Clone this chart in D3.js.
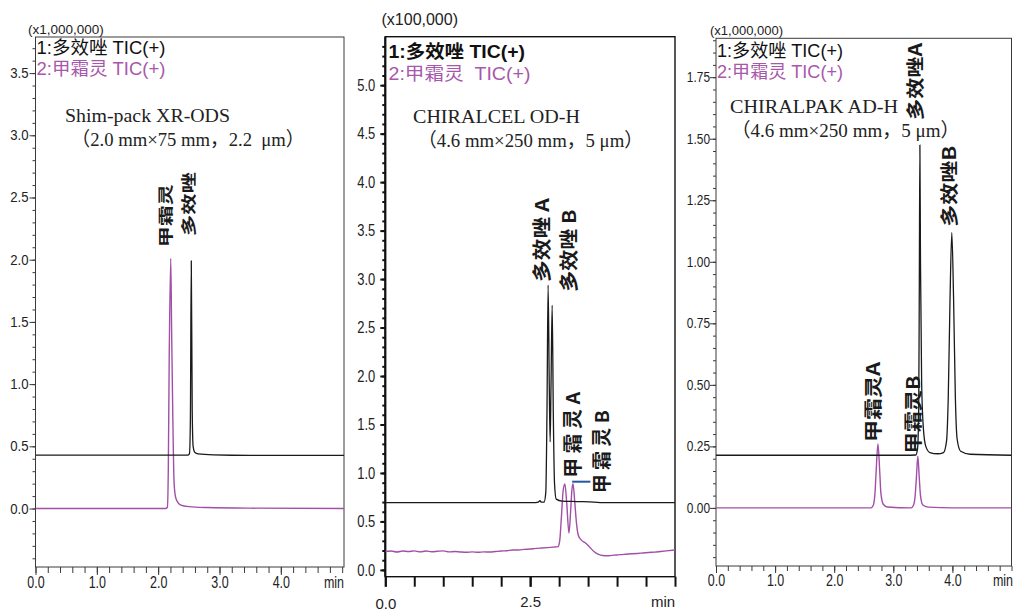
<!DOCTYPE html>
<html>
<head>
<meta charset="utf-8">
<script src="https://cdn.jsdelivr.net/npm/d3@7"></script>
<style>
body { margin: 0; background: #fff; }
svg { display: block; }
</style>
</head>
<body>
<div id="chart"></div>
<script>
/* Data ************************************************************************/

// series names (legend)
var legend_black = ['1:多效唑 TIC(+)', '1:多效唑 TIC(+)', '1:多效唑 TIC(+)'],
    legend_magenta = ['2:甲霜灵 TIC(+)', '2:甲霜灵  TIC(+)', '2:甲霜灵 TIC(+)'],
    y_units = ['(x1,000,000)', '(x100,000)', '(x1,000,000)'],
    column_name = ['Shim-pack XR-ODS', 'CHIRALCEL OD-H', 'CHIRALPAK AD-H'],
    column_size = ['（2.0 mm×75 mm，2.2  μm）', '（4.6 mm×250 mm，5 μm）', '（4.6 mm×250 mm，5 μm）'];

// panel 1: [time (min), intensity]
var p1_black = [[0.00,0.43],[1.00,0.43],[2.00,0.43],[2.48,0.43],[2.51,0.44],[2.525,0.70],
                [2.54,1.99],[2.555,0.80],[2.57,0.50],[2.60,0.45],[2.65,0.44],[2.90,0.432],
                [3.50,0.428],[5.03,0.428]];
var p1_magenta = [[0.00,0.0],[1.00,0.0],[2.12,0.0],[2.15,0.01],[2.165,0.30],[2.18,1.20],
                  [2.205,2.01],[2.22,1.40],[2.24,0.70],[2.26,0.20],[2.29,0.08],[2.36,0.03],
                  [2.50,0.015],[2.80,0.008],[3.50,0.003],[5.03,0.0]];

// panel 2
var p2_black = [[0.00,0.694],[1.00,0.694],[2.00,0.694],[2.55,0.694],[2.64,0.70],[2.67,0.715],
                [2.69,0.70],[2.74,0.70],[2.77,0.80],[2.79,1.60],[2.81,2.938],[2.83,1.90],
                [2.845,1.32],[2.86,1.90],[2.88,2.73],[2.90,1.60],[2.92,0.90],[2.95,0.73],
                [3.05,0.71],[3.30,0.705],[3.60,0.70],[3.75,0.694],[5.00,0.694]];
var p2_magenta = [[0.00,0.19],[0.10,0.195],[0.20,0.185],[0.30,0.195],[0.40,0.19],[0.50,0.196],
                  [0.60,0.186],[0.70,0.195],[0.80,0.188],[0.90,0.192],[1.00,0.196],[1.10,0.186],
                  [1.20,0.19],[1.30,0.185],[1.40,0.182],[1.50,0.186],[1.60,0.182],[1.70,0.186],
                  [1.80,0.185],[1.90,0.19],[2.00,0.195],[2.10,0.198],[2.20,0.205],[2.30,0.205],
                  [2.40,0.212],[2.50,0.215],[2.60,0.222],[2.70,0.226],[2.80,0.23],[2.90,0.235],
                  [2.98,0.24],[3.01,0.30],[3.04,0.55],[3.07,0.82],[3.10,0.887],[3.13,0.70],
                  [3.17,0.38],[3.20,0.62],[3.22,0.82],[3.24,0.89],[3.27,0.70],[3.30,0.48],
                  [3.33,0.36],[3.38,0.31],[3.45,0.28],[3.52,0.24],[3.60,0.19],[3.68,0.16],
                  [3.75,0.148],[3.85,0.146],[3.95,0.152],[4.05,0.158],[4.15,0.162],[4.25,0.166],
                  [4.35,0.17],[4.45,0.175],[4.55,0.18],[4.65,0.184],[4.75,0.19],[4.85,0.196],
                  [5.00,0.206]];

// panel 3
var p3_black = [[0.00,0.214],[1.00,0.214],[2.00,0.214],[3.20,0.214],[3.38,0.215],[3.41,0.24],
                [3.43,0.40],[3.44,0.90],[3.45,1.474],[3.46,1.00],[3.48,0.50],[3.51,0.32],
                [3.55,0.25],[3.62,0.225],[3.75,0.22],[3.85,0.225],[3.90,0.27],[3.93,0.45],
                [3.96,0.85],[3.99,1.118],[4.02,0.85],[4.05,0.45],[4.08,0.28],[4.14,0.23],
                [4.30,0.218],[5.00,0.214]];
var p3_magenta = [[0.00,0.0],[1.00,0.0],[2.00,0.0],[2.62,0.0],[2.66,0.01],[2.69,0.06],
                  [2.71,0.15],[2.74,0.26],[2.77,0.15],[2.79,0.06],[2.83,0.015],[2.90,0.004],
                  [3.30,0.0],[3.34,0.01],[3.37,0.05],[3.39,0.12],[3.415,0.21],[3.44,0.12],
                  [3.46,0.05],[3.50,0.012],[3.60,0.003],[4.00,0.0],[5.00,0.0]];

// peak names, anchored at [label centre time, label foot intensity]
var p1_peaks = ['甲霜灵', '多效唑'],
    p1_peak_at = [[2.124, 2.10], [2.49, 2.19]];
var p2_peaks = ['多效唑 A', '多效唑 B', '甲 霜 灵 A', '甲 霜 灵 B'],
    p2_peak_at = [[2.70, 2.97], [3.17, 2.87], [3.24, 0.95], [3.74, 0.79]];
var p3_peaks = ['多效唑A', '多效唑B', '甲霜灵A', '甲霜灵B'],
    p3_peak_at = [[3.38, 1.576], [3.944, 1.142], [2.67, 0.268], [3.35, 0.221]];

// tick values
var p1_yticks = [0.0, 0.5, 1.0, 1.5, 2.0, 2.5, 3.0, 3.5],
    p1_xticks = [0, 1, 2, 3, 4];
var p2_yticks = [0.0, 0.5, 1.0, 1.5, 2.0, 2.5, 3.0, 3.5, 4.0, 4.5, 5.0],
    p2_xticks = [0, 2.5];
var p3_yticks = [0.00, 0.25, 0.50, 0.75, 1.00, 1.25, 1.50, 1.75],
    p3_xticks = [0, 1, 2, 3, 4];

/* Layout **********************************************************************/

var width = 1013, height = 611;
var black = '#1a1a1a', magenta = '#a24fa6', magenta_txt = '#a858aa';
var sans = "'Liberation Sans','Noto Sans CJK SC',sans-serif",
    cjk = "'Noto Sans CJK SC',sans-serif",
    serif = "'Liberation Serif','Noto Sans CJK SC',serif";

var panels = [
    { left: 35.5, right: 344, top: 37, bottom: 567,
      xdom: [0, 5.03], ydom: [-0.47, 3.79],
      black: p1_black, magenta: p1_magenta,
      peaks: p1_peaks, peak_at: p1_peak_at, peak_px: 15, peak_len: [63, 64],
      yticks: p1_yticks, yminor: d3.range(-4, 38).map(i => i / 10), yfmt: '.1f',
      ysize: 6, yminsize: 3, ygap: 7, yfont: 14, yscale: 0.94,
      xticks: p1_xticks, xminor: d3.range(0, 26).map(i => i / 5), xfmt: '.1f',
      xsize: 8, xminsize: 6, xbase: 588, xfont: 16, xscale: 0.78, min_x: 334,
      frame: '#3a3a3a', fw: 1, tickw: 1,
      unit_x: 28, unit_y: 34, unit_px: 13.5,
      leg_x: 36.5, leg_y: [54, 75], leg_px: 18, leg_len: [129, 129], leg_bold: false,
      ann_x: [65, 71.5], ann_y: [122, 145.5], ann_px: 19.5, ann_len: [165, 233] },
    { left: 385.3, right: 675, top: 36.7, bottom: 576.7,
      xdom: [0, 5], ydom: [-0.07, 5.5],
      black: p2_black, magenta: p2_magenta,
      peaks: p2_peaks, peak_at: p2_peak_at, peak_px: 19, peak_len: [84, 82, 86, 83],
      yticks: p2_yticks, yminor: d3.range(0, 55).map(i => i / 10), yfmt: '.1f',
      ysize: 5, yminsize: 3, ygap: 10, yfont: 16, yscale: 0.81,
      xticks: p2_xticks, xminor: d3.range(0, 11).map(i => i / 2), xfmt: '.1f',
      xsize: 10, xminsize: 10, xbase: 607, xfont: 15, xscale: 1, min_x: 663,
      frame: '#111', fw: 1.4, tickw: 2,
      unit_x: 381.5, unit_y: 25, unit_px: 16,
      leg_x: 388.5, leg_y: [58, 80], leg_px: 18, leg_len: [136.5, 142], leg_bold: true,
      ann_x: [413, 418], ann_y: [123, 146.5], ann_px: 19.5, ann_len: [167, 225] },
    { left: 716, right: 1011.5, top: 38.3, bottom: 566,
      xdom: [0, 5], ydom: [-0.236, 1.908],
      black: p3_black, magenta: p3_magenta,
      peaks: p3_peaks, peak_at: p3_peak_at, peak_px: 18, peak_len: [77, 81, 80, 78],
      yticks: p3_yticks, yminor: d3.range(-4, 39).map(i => i / 20), yfmt: '.2f',
      ysize: 6, yminsize: 3, ygap: 6, yfont: 14, yscale: 0.85,
      xticks: p3_xticks, xminor: d3.range(0, 26).map(i => i / 5), xfmt: '.1f',
      xsize: 7, xminsize: 5, xbase: 586.5, xfont: 16, xscale: 0.78, min_x: 1003,
      frame: '#3a3a3a', fw: 1, tickw: 1,
      unit_x: 710, unit_y: 35, unit_px: 13,
      leg_x: 717, leg_y: [56.5, 78], leg_px: 18, leg_len: [126, 126], leg_bold: false,
      ann_x: [730, 731.5], ann_y: [113, 136.5], ann_px: 19.5, ann_len: [168, 228] }
];

/* Functions *******************************************************************/

function draw_panel(svg, p, idx)
{
    let g = svg.append('g'),
        x = d3.scaleLinear().domain(p.xdom).range([p.left, p.right]),
        y = d3.scaleLinear().domain(p.ydom).range([p.bottom, p.top]),
        line = d3.line().x(d => x(d[0])).y(d => y(d[1])).curve(d3.curveMonotoneX);

    // clip
    g.append('clipPath').attr('id', 'clip' + idx)
        .append('rect')
        .attr('x', p.left).attr('y', p.top)
        .attr('width', p.right - p.left).attr('height', p.bottom - p.top);

    // y axis minor + major ticks
    let ymin = g.append('g')
        .attr('transform', `translate(${p.left},0)`)
        .call(d3.axisLeft(y).tickValues(p.yminor).tickSize(p.yminsize).tickFormat(''));
    let ymaj = g.append('g')
        .attr('transform', `translate(${p.left},0)`)
        .call(d3.axisLeft(y).tickValues(p.yticks).tickSize(p.ysize).tickFormat(d3.format(p.yfmt)));
    [ymin, ymaj].forEach(a => {
        a.select('.domain').remove();
        a.selectAll('line').attr('stroke', p.frame).attr('stroke-width', p.tickw);
    });
    ymaj.selectAll('text')
        .attr('x', 0)
        .attr('transform', `translate(${-p.ygap},0) scale(${p.yscale},1)`)
        .attr('font-family', sans).attr('font-size', p.yfont).attr('fill', '#222');

    // x axis
    let xmin = g.append('g')
        .attr('transform', `translate(0,${p.bottom})`)
        .call(d3.axisBottom(x).tickValues(p.xminor).tickSize(p.xminsize).tickFormat(''));
    let xmaj = g.append('g')
        .attr('transform', `translate(0,${p.bottom})`)
        .call(d3.axisBottom(x).tickValues(p.xticks).tickSize(p.xsize).tickFormat(d3.format(p.xfmt)));
    [xmin, xmaj].forEach(a => {
        a.select('.domain').remove();
        a.selectAll('line').attr('stroke', p.frame).attr('stroke-width', p.tickw);
    });
    xmaj.selectAll('text')
        .attr('y', p.xbase - p.bottom).attr('dy', null)
        .attr('transform', `scale(${p.xscale},1)`)
        .attr('font-family', sans).attr('font-size', p.xfont).attr('fill', '#222');
    if (idx === 1)
        xmaj.selectAll('text').filter(d => d === 0).attr('y', p.xbase - p.bottom + 2);

    g.append('text')
        .attr('x', p.min_x).attr('y', p.xbase)
        .attr('text-anchor', 'middle')
        .attr('font-family', sans).attr('font-size', p.xfont).attr('fill', '#222')
        .attr('transform', `translate(${p.min_x * (1 - p.xscale)},0) scale(${p.xscale},1)`)
        .text('min');

    // frame
    g.append('rect')
        .attr('x', p.left).attr('y', p.top)
        .attr('width', p.right - p.left).attr('height', p.bottom - p.top)
        .attr('fill', 'none').attr('stroke', p.frame).attr('stroke-width', p.fw);
    if (idx === 1)
        g.append('path')
            .attr('d', d3.line()([[p.left, p.top], [p.left, p.bottom]]))
            .attr('stroke', '#111').attr('stroke-width', 2.2);

    // traces
    let traces = g.append('g').attr('clip-path', `url(#clip${idx})`);
    traces.append('path').datum(p.magenta)
        .attr('d', line).attr('fill', 'none')
        .attr('stroke', magenta).attr('stroke-width', 1.4);
    traces.append('path').datum(p.black)
        .attr('d', line).attr('fill', 'none')
        .attr('stroke', black).attr('stroke-width', 1.3);

    // unit label
    g.append('text')
        .attr('x', p.unit_x).attr('y', p.unit_y)
        .attr('font-family', sans).attr('font-size', p.unit_px).attr('fill', '#222')
        .text(y_units[idx]);

    // legend
    g.append('text')
        .attr('x', p.leg_x).attr('y', p.leg_y[0])
        .attr('font-family', sans).attr('font-size', p.leg_px)
        .attr('font-weight', p.leg_bold ? 'bold' : 'normal').attr('fill', '#111')
        .attr('textLength', p.leg_len[0]).attr('lengthAdjust', 'spacingAndGlyphs')
        .style('white-space', 'pre')
        .text(legend_black[idx]);
    g.append('text')
        .attr('x', p.leg_x).attr('y', p.leg_y[1])
        .attr('font-family', sans).attr('font-size', p.leg_px).attr('fill', magenta_txt)
        .attr('textLength', p.leg_len[1]).attr('lengthAdjust', 'spacingAndGlyphs')
        .style('white-space', 'pre')
        .text(legend_magenta[idx]);

    // column annotation
    [column_name[idx], column_size[idx]].forEach((s, i) => {
        g.append('text')
            .attr('x', p.ann_x[i]).attr('y', p.ann_y[i])
            .attr('font-family', serif).attr('font-size', p.ann_px).attr('fill', '#222')
            .attr('textLength', p.ann_len[i]).attr('lengthAdjust', 'spacingAndGlyphs')
            .style('white-space', 'pre')
            .text(s);
    });

    // peak names (rotated)
    g.selectAll('text.peak').data(p.peaks).enter()
        .append('text')
        .attr('class', 'peak')
        .attr('transform', (d, i) => `translate(${x(p.peak_at[i][0])},${y(p.peak_at[i][1])}) rotate(-90)`)
        .attr('dy', '0.36em')
        .attr('font-family', cjk).attr('font-weight', 'bold')
        .attr('font-size', p.peak_px).attr('fill', '#1a1a1a')
        .attr('textLength', (d, i) => p.peak_len[i]).attr('lengthAdjust', 'spacingAndGlyphs')
        .style('white-space', 'pre')
        .text(d => d);

    // leader mark in panel 2
    if (idx === 1)
        g.append('path')
            .attr('d', d3.line()([[x(3.225), y(0.91)], [x(3.54), y(0.91)]]))
            .attr('stroke', '#2456a4').attr('stroke-width', 2);
}

let svg = d3.select('#chart').append('svg')
    .attr('width', width).attr('height', height);

panels.forEach((p, i) => draw_panel(svg, p, i));
</script>
</body>
</html>
